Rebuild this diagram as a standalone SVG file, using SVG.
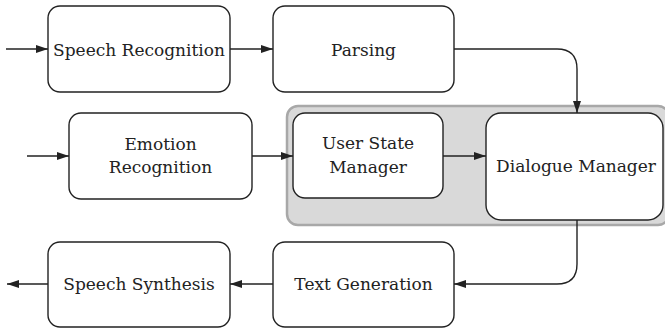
<svg xmlns="http://www.w3.org/2000/svg" width="665" height="328" viewBox="0 0 665 328">
  <style>
    .box { fill: #ffffff; stroke: #222222; stroke-width: 1.4; }
    .group { fill: #d9d9d9; stroke: #a8a8a8; stroke-width: 2.5; }
    .lbl { font-family: 'DejaVu Serif', serif; font-size: 17px; fill: #222222; text-anchor: middle; }
    .wire { fill: none; stroke: #222222; stroke-width: 1.4; marker-end: url(#arrow); }
  </style>
  <defs>
    <marker id="arrow" viewBox="0 0 12 8" refX="12" refY="4" markerWidth="12" markerHeight="8" markerUnits="userSpaceOnUse" orient="auto">
      <path d="M0,0 L12,4 L0,8 z" fill="#222222"/>
    </marker>
  </defs>

  <!-- shaded region holding the user state and dialogue managers -->
  <rect id="manager-group" class="group" x="287" y="106" width="382" height="119" rx="11"/>

  <g id="speech-recognition">
    <rect class="box" x="48" y="6" width="182" height="86" rx="12"/>
    <text class="lbl" x="139" y="56">Speech Recognition</text>
  </g>
  <g id="parsing">
    <rect class="box" x="273" y="6" width="181" height="86" rx="12"/>
    <text class="lbl" x="363.5" y="56">Parsing</text>
  </g>
  <g id="emotion-recognition">
    <rect class="box" x="69" y="113" width="183" height="86" rx="12"/>
    <text class="lbl" x="160.5" y="150">Emotion</text>
    <text class="lbl" x="160.5" y="173">Recognition</text>
  </g>
  <g id="user-state-manager">
    <rect class="box" x="293" y="113" width="150" height="85" rx="12"/>
    <text class="lbl" x="368" y="149">User State</text>
    <text class="lbl" x="368" y="173">Manager</text>
  </g>
  <g id="dialogue-manager">
    <rect class="box" x="486" y="113" width="177" height="107" rx="15"/>
    <text class="lbl" x="576" y="172">Dialogue Manager</text>
  </g>
  <g id="speech-synthesis">
    <rect class="box" x="48" y="242" width="182" height="85" rx="12"/>
    <text class="lbl" x="139" y="290">Speech Synthesis</text>
  </g>
  <g id="text-generation">
    <rect class="box" x="273" y="242" width="181" height="85" rx="12"/>
    <text class="lbl" x="363.5" y="290">Text Generation</text>
  </g>

  <g id="connectors">
    <path class="wire" d="M6,49 H48"/>
    <path class="wire" d="M230,49 H273"/>
    <path class="wire" d="M454,49 H557 Q577,49 577,69 V113"/>
    <path class="wire" d="M27,156 H69"/>
    <path class="wire" d="M252,156 H293"/>
    <path class="wire" d="M443,156 H486"/>
    <path class="wire" d="M577,220 V264 Q577,284 557,284 H454"/>
    <path class="wire" d="M273,284 H230"/>
    <path class="wire" d="M48,284 H7"/>
  </g>
</svg>
